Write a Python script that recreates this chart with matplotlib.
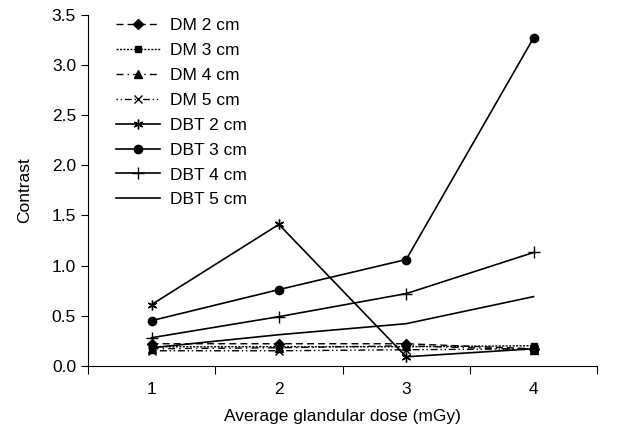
import numpy as np
import matplotlib
matplotlib.use('Agg')
import matplotlib.pyplot as plt

plt.rcParams['font.family'] = ['Liberation Sans', 'DejaVu Sans']

# x categories: average glandular dose (mGy)
dose = [1, 2, 3, 4]

dm2 = [0.22, 0.22, 0.22, 0.17]
dm3 = [0.19, 0.19, 0.19, 0.20]
dm4 = [0.17, 0.18, 0.20, 0.16]
dm5 = [0.15, 0.15, 0.16, 0.17]
dbt2 = [0.61, 1.41, 0.09, 0.17]
dbt3 = [0.45, 0.76, 1.06, 3.27]
dbt4 = [0.28, 0.49, 0.72, 1.13]
dbt5 = [0.18, 0.31, 0.42, 0.69]

labels = ['DM 2 cm', 'DM 3 cm', 'DM 4 cm', 'DM 5 cm',
          'DBT 2 cm', 'DBT 3 cm', 'DBT 4 cm', 'DBT 5 cm']

fs = 12.5

fig = plt.figure(figsize=(6.32, 4.36), dpi=100)
ax = fig.add_axes([0.139, 0.161, 0.806, 0.805])

ax.plot(dose, dm2, color='k', lw=1, ls=(0, (5, 3)), marker='D', ms=5, label=labels[0])
ax.plot(dose, dm3, color='k', lw=1, ls=(0, (1.5, 1)), marker='s', ms=5, label=labels[1])
ax.plot(dose, dm4, color='k', lw=1, ls=(0, (5, 3, 1, 3)), marker='^', ms=6, label=labels[2])
ax.plot(dose, dm5, color='k', lw=1, ls=(0, (1, 2, 1, 2, 5, 2)), marker='x', ms=6, label=labels[3])
ax.plot(dose, dbt2, color='k', lw=1.2, marker=(6, 2, 0), ms=7, label=labels[4])
ax.plot(dose, dbt3, color='k', lw=1.2, marker='o', ms=6, label=labels[5])
ax.plot(dose, dbt4, color='k', lw=1.2, marker='+', ms=8, label=labels[6])
ax.plot(dose, dbt5, color='k', lw=1.2, label=labels[7])

ax.set_xlim(0.5, 4.5)
ax.set_ylim(0, 3.5)
ax.set_xticks([0.5, 1.5, 2.5, 3.5, 4.5])
ax.set_xticklabels([])
ax.set_xticks(dose, minor=True)
ax.set_xticklabels(['1', '2', '3', '4'], minor=True)
ax.tick_params(axis='x', which='minor', length=0, pad=12, labelsize=fs)
ax.tick_params(axis='x', which='major', direction='out', length=6)
ax.set_yticks(np.arange(0, 3.6, 0.5))
ax.set_yticklabels(['%.1f' % v for v in np.arange(0, 3.6, 0.5)])
ax.tick_params(axis='y', direction='out', length=5, labelsize=fs)

ax.spines['top'].set_visible(False)
ax.spines['right'].set_visible(False)

ax.set_xlabel('Average glandular dose (mGy)', fontsize=fs, labelpad=8)
ax.set_ylabel('Contrast', fontsize=fs, labelpad=14)

ax.legend(loc='upper left', bbox_to_anchor=(0.025, 1.035), frameon=False,
          fontsize=fs, handlelength=2.5, labelspacing=0.56, handletextpad=0.6)

fig.savefig('out.png', dpi=100)
